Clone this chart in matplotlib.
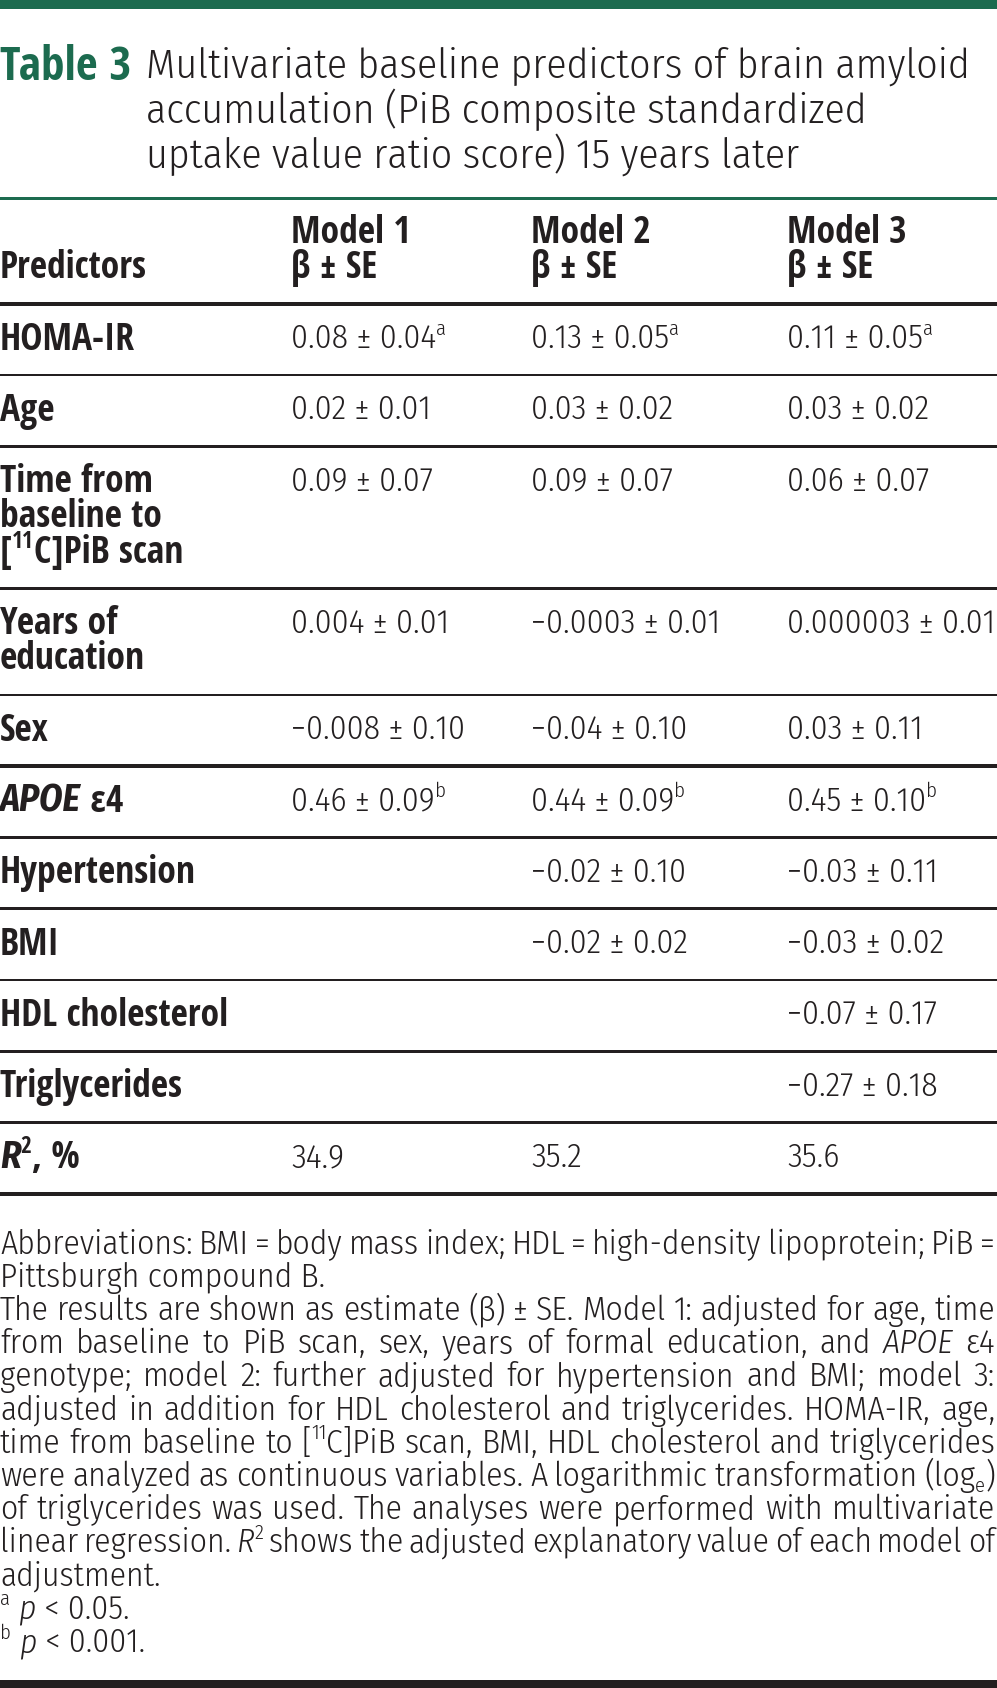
import matplotlib
matplotlib.use("Agg")
import matplotlib.pyplot as plt
import matplotlib.font_manager as fm
from matplotlib.font_manager import FontProperties

# ---------------- data ----------------
title_label = "Table 3"
title_lines = [
    "Multivariate baseline predictors of brain amyloid",
    "accumulation (PiB composite standardized",
    "uptake value ratio score) 15 years later",
]
header_first = "Predictors"
model_names = ["Model 1", "Model 2", "Model 3"]
model_sub = "β ± SE"

predictors = [
    "HOMA-IR",
    "Age",
    "Time from\nbaseline to\n[^{11}C]PiB scan",
    "Years of\neducation",
    "Sex",
    "*APOE* ε4",
    "Hypertension",
    "BMI",
    "HDL cholesterol",
    "Triglycerides",
    "*R*^{2}, %",
]
model1 = ["0.08 ± 0.04", "0.02 ± 0.01", "0.09 ± 0.07", "0.004 ± 0.01", "−0.008 ± 0.10",
          "0.46 ± 0.09", "", "", "", "", "34.9"]
model2 = ["0.13 ± 0.05", "0.03 ± 0.02", "0.09 ± 0.07", "−0.0003 ± 0.01", "−0.04 ± 0.10",
          "0.44 ± 0.09", "−0.02 ± 0.10", "−0.02 ± 0.02", "", "", "35.2"]
model3 = ["0.11 ± 0.05", "0.03 ± 0.02", "0.06 ± 0.07", "0.000003 ± 0.01", "0.03 ± 0.11",
          "0.45 ± 0.10", "−0.03 ± 0.11", "−0.03 ± 0.02", "−0.07 ± 0.17", "−0.27 ± 0.18", "35.6"]
model1_sig = ["a", "", "", "", "", "b", "", "", "", "", ""]
model2_sig = ["a", "", "", "", "", "b", "", "", "", "", ""]
model3_sig = ["a", "", "", "", "", "b", "", "", "", "", ""]
thick_after = ["Sex"]

footnote_lines = [
    ("Abbreviations: BMI = body mass index; HDL = high-density lipoprotein; PiB =", True),
    ("Pittsburgh compound B.", False),
    ("The results are shown as estimate (β) ± SE. Model 1: adjusted for age, time", True),
    ("from baseline to PiB scan, sex, years of formal education, and *APOE* ε4", True),
    ("genotype; model 2: further adjusted for hypertension and BMI; model 3:", True),
    ("adjusted in addition for HDL cholesterol and triglycerides. HOMA-IR, age,", True),
    ("time from baseline to [^{11}C]PiB scan, BMI, HDL cholesterol and triglycerides", True),
    ("were analyzed as continuous variables. A logarithmic transformation (log_{e})", True),
    ("of triglycerides was used. The analyses were performed with multivariate", True),
    ("linear regression. *R*^{2} shows the adjusted explanatory value of each model of", True),
    ("adjustment.", False),
    ("^{a} *p* < 0.05.", False),
    ("^{b} *p* < 0.001.", False),
]

# ---------------- fonts ----------------
W, H = 997, 1688
GREEN = "#1c6b4f"
INK = "#231f20"


def wnum(w):
    if isinstance(w, (int, float)):
        return float(w)
    return float(fm.weight_dict.get(str(w), 400))


def pick(match, weight, style, maxdiff=150):
    c = [f for f in fm.fontManager.ttflist if match(f.name) and f.style == style]
    if not c:
        return None
    best = min(c, key=lambda f: abs(wnum(f.weight) - weight))
    if abs(wnum(best.weight) - weight) > maxdiff:
        return None
    return best.fname


families = [
    lambda n: n.lower().startswith("open sans") and "condensed" in n.lower() and "semi" not in n.lower(),
    lambda n: n == "Fira Sans Condensed",
    lambda n: n == "Barlow Semi Condensed",
    lambda n: n == "Liberation Sans Narrow",
]
want = {"reg": (300, "normal"), "bold": (700, "normal"),
        "it": (300, "italic"), "boldit": (700, "italic")}
FILES = {}
for key in ["reg", "bold", "it", "boldit"]:
    wt, st = want[key]
    for m in families:
        fn = pick(m, wt, st)
        if fn:
            FILES[key] = fn
            break
if "reg" not in FILES:
    FILES["reg"] = fm.findfont(FontProperties(family="Open Sans"))
if "bold" not in FILES:
    FILES["bold"] = fm.findfont(FontProperties(family="Open Sans", weight="bold"))
if "it" not in FILES:
    FILES["it"] = FILES["reg"]
if "boldit" not in FILES:
    FILES["boldit"] = FILES["bold"]


def variant(weight, italic):
    if weight == "bold":
        return "boldit" if italic else "bold"
    return "it" if italic else "reg"


fig = plt.figure(figsize=(W / 100, H / 100), dpi=100)
ax = fig.add_axes([0, 0, 1, 1])
ax.set_xlim(0, W)
ax.set_ylim(H, 0)
ax.axis("off")
renderer = fig.canvas.get_renderer()

_cache = {}


def fprop(var, fs):
    return FontProperties(fname=FILES[var], size=fs)


def measure(s, fs, var):
    key = (s, round(fs, 3), var)
    if key in _cache:
        return _cache[key]
    t = ax.text(0, 0, s, fontproperties=fprop(var, fs))
    w = t.get_window_extent(renderer).width
    t.remove()
    _cache[key] = w
    return w


def run_width(s, fs, var):
    return measure("|" + s + "|", fs, var) - measure("||", fs, var)


def parse(s):
    runs = []
    italic = False
    buf = ""
    i = 0
    while i < len(s):
        c = s[i]
        if c == "*":
            if buf:
                runs.append((buf, italic, 0))
                buf = ""
            italic = not italic
            i += 1
        elif c in "^_" and i + 1 < len(s) and s[i + 1] == "{":
            if buf:
                runs.append((buf, italic, 0))
                buf = ""
            j = s.index("}", i)
            runs.append((s[i + 2:j], italic, 1 if c == "^" else -1))
            i = j + 1
        else:
            buf += c
            i += 1
    if buf:
        runs.append((buf, italic, 0))
    return runs


def run_props(run, fs, weight):
    text, italic, script = run
    px = fs * 100 / 72
    size = fs * 0.62 if script else fs
    dy = -0.40 * px if script == 1 else (0.18 * px if script == -1 else 0)
    return text, size, variant(weight, italic), dy


def markup_width(s, fs, weight="normal"):
    w = 0
    for run in parse(s):
        text, size, var, dy = run_props(run, fs, weight)
        w += run_width(text, size, var)
    return w


def draw_markup(x, y, s, fs, weight="normal", color=INK):
    for run in parse(s):
        text, size, var, dy = run_props(run, fs, weight)
        ax.text(x, y + dy, text, fontproperties=fprop(var, size),
                color=color, ha="left", va="baseline")
        x += run_width(text, size, var)
    return x


def fit(s, target, var):
    return 20 * target / measure(s, 20, var)


fs_title = fit(title_lines[0], 825, "reg")
fs_label = fit(title_label, 131, "bold")
fs_body = fit("0.000003 ± 0.01", 208, "reg")
fs_bold = fit("HDL cholesterol", 228, "bold")
fs_foot = fit("Pittsburgh compound B.", 325, "reg")


def base_off(fs):
    return 0.36 * fs * 100 / 72


# ---------------- title ----------------
ax.axhspan(0, 9, color=GREEN, lw=0)
title_centers = [62.5, 107.7, 152.9]
draw_markup(0, title_centers[0] + base_off(fs_label), title_label, fs_label, "bold", GREEN)
for c, line in zip(title_centers, title_lines):
    draw_markup(146, c + base_off(fs_title), line, fs_title)
ax.axhspan(196.5, 199.5, color=GREEN, lw=0)

# ---------------- header ----------------
col_x = [0, 291, 531, 787]
draw_markup(col_x[0], 264 + base_off(fs_bold), header_first, fs_bold, "bold")
for cx, name in zip(col_x[1:], model_names):
    draw_markup(cx, 229 + base_off(fs_bold), name, fs_bold, "bold")
    draw_markup(cx, 264 + base_off(fs_bold), model_sub, fs_bold, "bold")
ax.axhspan(302, 305.5, color=INK, lw=0)

# ---------------- body ----------------
y = 303.7
LINE = 35.3
for i, lab in enumerate(predictors):
    lines = lab.split("\n")
    h = 36 + LINE * len(lines)
    for k, ln in enumerate(lines):
        draw_markup(col_x[0], y + 32.3 + k * LINE + base_off(fs_bold), ln, fs_bold, "bold")
    for cx, vals, sigs in zip(col_x[1:], [model1, model2, model3],
                              [model1_sig, model2_sig, model3_sig]):
        v = vals[i]
        if v:
            s = v + ("^{" + sigs[i] + "}" if sigs[i] else "")
            draw_markup(cx, y + 32.3 + base_off(fs_body), s, fs_body)
    y += h
    thick = lab in thick_after or i == len(predictors) - 1
    t = 3.4 if thick else 2.6
    ax.axhspan(y - t / 2, y + t / 2, color=INK, lw=0)

# ---------------- footnotes ----------------
FOOT_W = 995
for k, (line, justify) in enumerate(footnote_lines):
    cy = 1241.5 + k * 33.2
    by = cy + base_off(fs_foot)
    if justify:
        words = line.split(" ")
        widths = [markup_width(wd, fs_foot) for wd in words]
        gap = (FOOT_W - sum(widths)) / (len(words) - 1)
        x = 0
        for wd, wdt in zip(words, widths):
            draw_markup(x, by, wd, fs_foot)
            x += wdt + gap
    else:
        draw_markup(0, by, line, fs_foot)

ax.axhspan(1680, 1688, color=INK, lw=0)

fig.savefig("out.png", dpi=100, facecolor="white")
